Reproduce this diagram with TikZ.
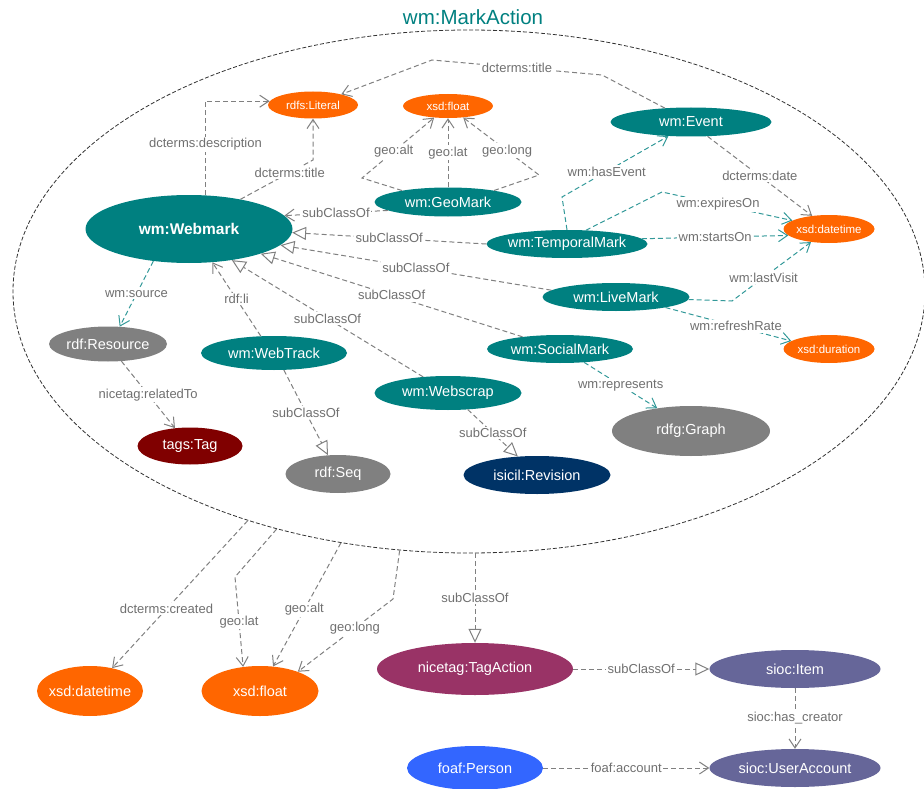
\documentclass[tikz,border=0pt]{standalone}
\usepackage{fontspec}
\setmainfont{Liberation Sans}
\usepackage{tikz}
\usetikzlibrary{shapes.geometric}
\usetikzlibrary{arrows.meta}

\definecolor{wmteal}{RGB}{0,128,128}
\definecolor{xsdorange}{RGB}{255,102,0}
\definecolor{rdfgray}{RGB}{128,128,128}
\definecolor{tagred}{RGB}{128,0,0}
\definecolor{isicilblue}{RGB}{0,51,102}
\definecolor{nicetagpurple}{RGB}{153,51,102}
\definecolor{siocslate}{RGB}{102,102,153}
\definecolor{foafblue}{RGB}{51,102,255}
\definecolor{propgray}{RGB}{128,128,128}
\definecolor{propteal}{RGB}{51,153,153}
\definecolor{labelgray}{RGB}{112,112,112}

\newcommand{\fsize}[1]{\fontsize{#1}{#1}\selectfont}

\tikzset{
    cls/.style={ellipse, fill=#1, text=white, inner xsep=-8pt, inner ysep=0pt, font=\fsize{14.5}},
    sz/.style 2 args={minimum width=#1pt, minimum height=#2pt},
    lit/.style={cls=xsdorange, font=\fsize{11.5}},
    rel/.style={draw=propgray, line width=1pt, dash pattern=on 5pt off 3pt,
        -{Straight Barb[length=9pt, width=12pt, line width=1pt]}},
    obj/.style={rel, draw=propteal},
    sub/.style={draw=propgray, line width=1pt, dash pattern=on 5pt off 3pt,
        -{Triangle[open, length=14pt, width=13pt, line width=1pt, fill=white]}},
    lbl/.style={font=\fsize{13}, text=labelgray, fill=white, inner sep=1.5pt}
}

\begin{document}
\begin{tikzpicture}[x=1pt, y=-1pt]
    \useasboundingbox (0,0) rectangle (924,789);

    % Nodes
    \node[draw=black!80, dash pattern=on 4pt off 2pt, line width=0.8pt, ellipse, inner sep=0pt, sz={912}{523}] (markaction) at (469,291.5) {};
    \node[font=\fsize{20.5}, text=wmteal] (title) at (473,17) {wm:MarkAction};

    \node[cls=wmteal, sz={207}{68}, font=\fsize{15.5}\bfseries] (webmark) at (189,229) {wm:Webmark};
    \node[lit, sz={90}{27}] (literal) at (313,105) {rdfs:Literal};
    \node[lit, sz={90}{24}] (xfloat) at (448,106) {xsd:float};
    \node[cls=wmteal, sz={161}{29}] (event) at (691,122) {wm:Event};
    \node[cls=wmteal, sz={147}{29}] (geomark) at (448,202) {wm:GeoMark};
    \node[cls=wmteal, sz={161}{28}] (temporal) at (567,244) {wm:TemporalMark};
    \node[lit, sz={91}{28}] (xdate) at (829,229) {xsd:datetime};
    \node[cls=wmteal, sz={147}{28}] (livemark) at (616,297) {wm:LiveMark};
    \node[lit, sz={91}{28}] (xduration) at (829,349) {xsd:duration};
    \node[cls=wmteal, sz={146}{28}] (social) at (560,349) {wm:SocialMark};
    \node[cls=rdfgray, sz={118}{35}] (resource) at (108,344) {rdf:Resource};
    \node[cls=wmteal, sz={146}{34}] (webtrack) at (274,353) {wm:WebTrack};
    \node[cls=wmteal, sz={147}{34}] (webscrap) at (448,393) {wm:Webscrap};
    \node[cls=tagred, sz={105}{37}] (tag) at (190,446) {tags:Tag};
    \node[cls=rdfgray, sz={105}{38}] (seq) at (338,474) {rdf:Seq};
    \node[cls=isicilblue, sz={147}{38}] (revision) at (537,475) {isicil:Revision};
    \node[cls=rdfgray, sz={158}{50}] (graph) at (691,431) {rdfg:Graph};

    \node[cls=xsdorange, sz={106}{50}] (datetime) at (90,691) {xsd:datetime};
    \node[cls=xsdorange, sz={117}{50}] (float) at (260,691) {xsd:float};
    \node[cls=nicetagpurple, sz={196}{52}] (tagaction) at (475,669) {nicetag:TagAction};
    \node[cls=siocslate, sz={171}{38}] (item) at (795,669) {sioc:Item};
    \node[cls=siocslate, sz={171}{38}] (account) at (795,768) {sioc:UserAccount};
    \node[cls=foafblue, sz={136}{44}] (person) at (475,768) {foaf:Person};

    % Edges
    \draw[rel] (webmark.64) |- node[lbl, pos=0.27] {dcterms:description} (literal.175);
    \draw[rel] (webmark.30) -- node[lbl, pos=0.68] {dcterms:title} (313,160) -- (literal);
    \draw[rel] (event.152) -- (602,75) -- node[lbl] {dcterms:title} (432,60) -- (literal);
    \draw[rel] (geomark.166) -- (362,178) -- node[lbl, pos=0.44] {geo:alt} (xfloat);
    \draw[rel] (geomark) -- node[lbl] {geo:lat} (xfloat);
    \draw[rel] (geomark.14) -- (539,175) -- node[lbl, pos=0.42] {geo:long} (xfloat);
    \draw[rel] (geomark.188) -- node[lbl] {subClassOf} (webmark.8);

    \draw[sub] (temporal.west) -- node[lbl] {subClassOf} (webmark.358);
    \draw[sub] (livemark.174) -- node[lbl] {subClassOf} (webmark.350);
    \draw[sub] (social.162) -- node[lbl] {subClassOf} (webmark.341);
    \draw[sub] (webscrap.147) -- node[lbl] {subClassOf} (webmark.324);
    \draw[rel] (webtrack.128) -- node[lbl] {rdf:li} (webmark.305);
    \draw[sub] (webtrack.300) -- node[lbl] {subClassOf} (seq.118);
    \draw[sub] (webscrap.320) -- node[lbl] {subClassOf} (revision.136);

    \draw[obj] (webmark.222) -- node[lbl] {wm:source} (resource.56);
    \draw[rel] (resource.308) -- node[lbl] {nicetag:relatedTo} (tag.130);

    \draw[obj] (temporal.north) -- (562,197) -- node[lbl, pos=0.42] {wm:hasEvent} (event.212);
    \draw[obj] (temporal.36) -- (662,192) -- node[lbl, pos=0.43] {wm:expiresOn} (xdate.167);
    \draw[obj] (temporal.4) -- node[lbl] {wm:startsOn} (xdate.189);
    \draw[rel] (event.319) -- node[lbl] {dcterms:date} (xdate.142);
    \draw[obj] (livemark.358) -- (732,301) -- node[lbl, pos=0.4] {wm:lastVisit} (xdate.216);
    \draw[obj] (livemark.348) -- node[lbl, pos=0.56] {wm:refreshRate} (xduration.168);
    \draw[obj] (social.331) -- node[lbl] {wm:represents} (graph.146);

    % outside of wm:MarkAction
    \draw[rel] (markaction.226) -- node[lbl, pos=0.6] {dcterms:created} (datetime.46);
    \draw[rel] (markaction.231) -- (235,577) -- node[lbl] {geo:lat} (float.125);
    \draw[rel] (markaction.243) -- node[lbl, pos=0.54] {geo:alt} (float.62);
    \draw[rel] (markaction.255) -- (393,599) -- node[lbl, pos=0.4] {geo:long} (float.27);
    \draw[sub] (tagaction.north |- markaction.south) -- node[lbl] {subClassOf} (tagaction.north);
    \draw[sub] (tagaction) -- node[lbl] {subClassOf} (item);
    \draw[rel] (item) -- node[lbl] {sioc:has\_creator} (account);
    \draw[rel] (person) -- node[lbl] {foaf:account} (account);

\end{tikzpicture}
\end{document}
